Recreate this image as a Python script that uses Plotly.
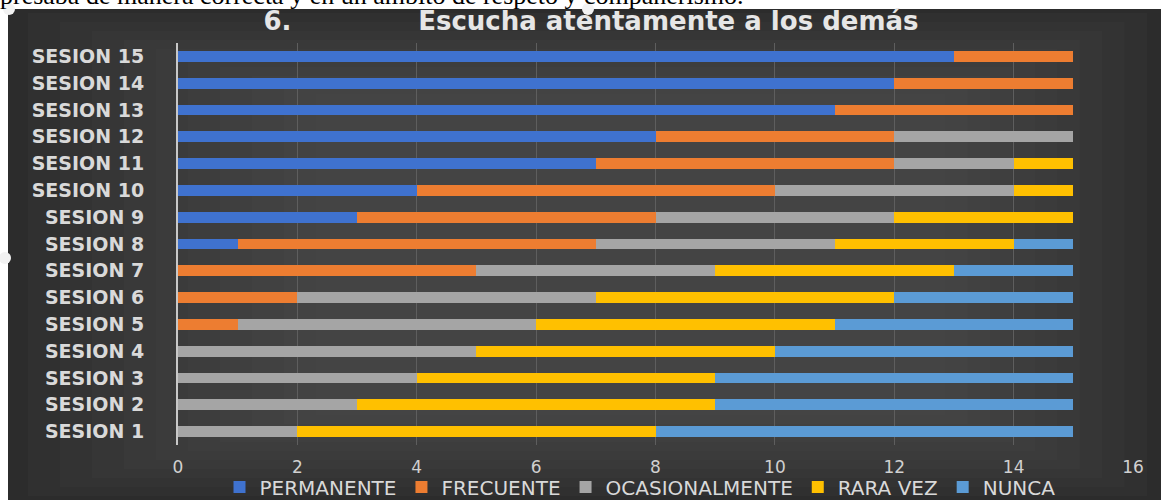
import plotly.graph_objects as go

sessions = [f"SESION {i}" for i in range(1, 16)]
permanente     = [0, 0, 0, 0, 0, 0, 0, 1, 3, 4, 7, 8, 11, 12, 13]
frecuente      = [0, 0, 0, 0, 1, 2, 5, 6, 5, 6, 5, 4, 4, 3, 2]
ocasionalmente = [2, 3, 4, 5, 5, 5, 4, 4, 4, 4, 2, 3, 0, 0, 0]
rara_vez       = [6, 6, 5, 5, 5, 5, 4, 3, 3, 1, 1, 0, 0, 0, 0]
nunca          = [7, 6, 6, 5, 4, 3, 2, 1, 0, 0, 0, 0, 0, 0, 0]

series = [
    ("PERMANENTE", permanente, "#3F72CF"),
    ("FRECUENTE", frecuente, "#ED7D31"),
    ("OCASIONALMENTE", ocasionalmente, "#A5A5A5"),
    ("RARA VEZ", rara_vez, "#FFC000"),
    ("NUNCA", nunca, "#5B9BD5"),
]

W, H = 1161, 500
ML, MR, MT, MB = 178, 28, 43, 55
PW, PH = W - ML - MR, H - MT - MB

def px_x(x):  # page pixel -> paper coordinate
    return (x - ML) / PW

def px_y(y):
    return (H - MB - y) / PH

fig = go.Figure()
for name, vals, col in series:
    fig.add_trace(go.Bar(
        y=sessions, x=vals, name=name, orientation="h",
        marker=dict(color=col, line=dict(width=0)),
    ))

shapes = []
# dark chart panel (pasted picture) below a strip of document text
shapes.append(dict(type="rect", xref="paper", yref="paper", layer="below",
                   x0=px_x(8), x1=px_x(W + 5), y0=px_y(H + 5), y1=px_y(9),
                   fillcolor="#2c2c2c", line=dict(width=0)))
# soft radial-ish lightening toward the centre
for i in range(10):
    ix = 20 + i * 32
    iy = 4 + i * 9
    shapes.append(dict(type="rect", xref="paper", yref="paper", layer="below",
                       x0=px_x(8 + ix), x1=px_x(W - ix * 0.7),
                       y0=px_y(H - iy), y1=px_y(9 + iy),
                       fillcolor="rgba(90,90,90,0.09)", line=dict(width=0)))
# image resize handles
for hx, hy in [(9, 9), (588, 9), (5, 258)]:
    shapes.append(dict(type="circle", xref="paper", yref="paper",
                       xsizemode="pixel", ysizemode="pixel",
                       xanchor=px_x(hx), yanchor=px_y(hy),
                       x0=-6, x1=6, y0=-6, y1=6,
                       fillcolor="#f2f2f2", line=dict(width=0), layer="above"))

nb = "&nbsp;" * 14
fig.update_layout(
    width=W, height=H,
    margin=dict(l=ML, r=MR, t=MT, b=MB, autoexpand=False),
    paper_bgcolor="white",
    plot_bgcolor="rgba(0,0,0,0)",
    barmode="stack",
    bargap=0.6,
    shapes=shapes,
    title=dict(text=f"6.{nb}Escucha atentamente a los demás",
               x=591 / W, xref="container", xanchor="center",
               y=1 - 21 / H, yref="container", yanchor="middle",
               font=dict(family="DejaVu Sans", size=26, color="#e6e6e6", weight="bold")),
    xaxis=dict(range=[0, 16], dtick=2, showgrid=True, gridcolor="#5e5e5e", gridwidth=1,
               zeroline=False, showline=False, automargin=False,
               tickfont=dict(family="DejaVu Sans", size=17, color="#d0d0d0"),
               ticklabelstandoff=10),
    yaxis=dict(showgrid=False, showline=True, linecolor="#c8c8c8", linewidth=2,
               ticks="", zeroline=False, automargin=False,
               tickfont=dict(family="DejaVu Sans", size=19, color="#d9d9d9", weight="bold"),
               ticklabelstandoff=28),
    legend=dict(orientation="h", x=px_x(640), xanchor="center",
                y=px_y(487), yanchor="middle", bgcolor="rgba(0,0,0,0)",
                font=dict(family="DejaVu Sans", size=20, color="#d9d9d9"),
                traceorder="normal", itemwidth=30),
    annotations=[dict(text="presaba de manera correcta y en un ámbito de respeto y compañerismo.",
                      xref="paper", yref="paper", x=px_x(-2), y=px_y(-5),
                      xanchor="left", yanchor="middle", showarrow=False,
                      font=dict(family="Liberation Serif", size=26, color="black"))],
    showlegend=True,
)

fig.write_html("out.html",
               config={"displayModeBar": False},
               post_script="document.body.style.margin='0';document.body.style.overflow='hidden';")
